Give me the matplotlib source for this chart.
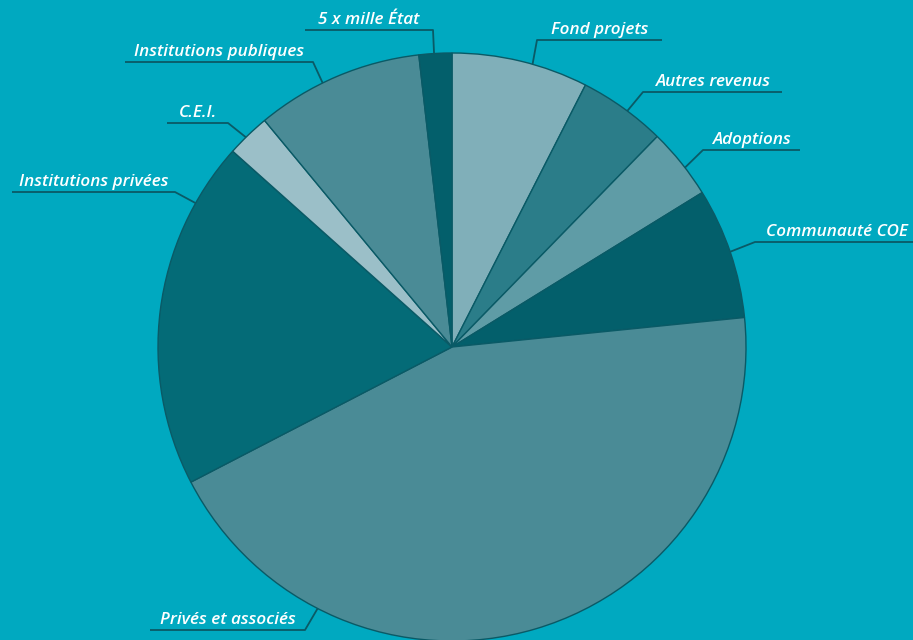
import matplotlib
matplotlib.use("Agg")
import matplotlib.pyplot as plt
import numpy as np

# parts (en %), sens horaire depuis midi
categories = ["Fond projets", "Autres revenus", "Adoptions", "Communauté COE",
              "Privés et associés", "Institutions privées", "C.E.I.",
              "Institutions publiques", "5 x mille État"]
values = [7.5, 4.8, 3.9, 7.2, 44.0, 19.2, 2.4, 9.2, 1.8]

colors = ["#80AFB9", "#2B7D89", "#5F9CA6", "#035F6B", "#4A8B96",
          "#046B77", "#9BBFC8", "#4A8B96", "#035F6B"]

BG = "#00A9C0"
DARK = "#0A5A66"

# mise en page des étiquettes (pixels, origine en haut à gauche)
leader_angle = [15.9, 36.6, 52.4, 71.1, 207.2, 299.3, 315.5, 333.9, 356.5]
elbow = [(537, 40), (643, 92), (703, 150), (755, 242), (305, 630),
         (175, 192), (228, 123), (313, 62), (433, 30)]
line_end = [662, 782, 800, 913, 150, 12, 167, 125, 305]

W, H = 913, 640
CX, CY, R = 452, 347, 294

fig = plt.figure(figsize=(W / 100, H / 100), dpi=100)
fig.patch.set_facecolor(BG)
ax = fig.add_axes([0, 0, 1, 1])
ax.set_facecolor(BG)

ax.pie(values, colors=colors, startangle=90, counterclock=False,
       center=(CX, H - CY), radius=R, frame=True,
       wedgeprops=dict(edgecolor=DARK, linewidth=1.0))
ax.set_xlim(0, W)
ax.set_ylim(0, H)
ax.axis("off")

for name, ang, (ex, ey), lx in zip(categories, leader_angle, elbow, line_end):
    a = np.radians(ang)
    px = CX + R * np.sin(a)
    py = CY - R * np.cos(a)
    ax.plot([px, ex, lx], [H - py, H - ey, H - ey], color=DARK, lw=1.3,
            solid_capstyle="butt", clip_on=False)
    tx = (ex + lx) / 2
    if lx == W:
        tx = ex + 82
    ax.text(tx, H - ey + 6, name, color="white", fontsize=12.3,
            fontstyle="italic", fontweight="semibold", family="Open Sans",
            ha="center", va="baseline")

fig.savefig("out.png", dpi=100, facecolor=BG)
